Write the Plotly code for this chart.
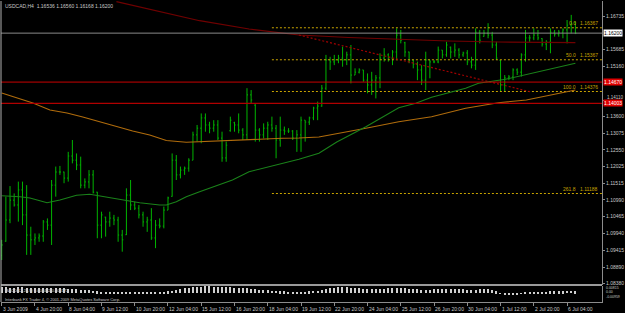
import plotly.graph_objects as go

# ---------------- data ----------------
bars = list(range(139))
highs = [1.0974,1.1109,1.1142,1.1119,1.1156,1.1156,1.1145,1.1015,1.0994,1.0994,
         1.1036,1.1041,1.1161,1.1203,1.1205,1.1187,1.1249,1.1286,1.1244,1.1234,
         1.1166,1.1192,1.1192,1.1124,1.1062,1.1046,1.1062,1.1052,1.1046,1.1005,
         1.1135,1.1161,1.1093,1.1083,1.1062,1.1046,1.1073,1.1036,1.1041,1.1078,
         1.1109,1.1244,1.1239,1.1203,1.1203,1.1229,1.1312,1.1333,1.1369,1.1369,
         1.1343,1.1348,1.1348,1.1312,1.1281,1.1359,1.1343,1.1369,1.1323,1.1448,
         1.1442,1.1398,1.1323,1.1338,1.1343,1.1359,1.1333,1.1359,1.1328,1.1323,
         1.1317,1.1317,1.1359,1.1348,1.1359,1.1390,1.1406,1.1458,1.1552,1.1546,
         1.1552,1.1552,1.1578,1.1562,1.1583,1.1510,1.1510,1.1505,1.1494,1.1499,
         1.1489,1.1557,1.1573,1.1557,1.1567,1.1635,1.1630,1.1593,1.1562,1.1536,
         1.1531,1.1520,1.1562,1.1536,1.1536,1.1578,1.1567,1.1593,1.1578,1.1588,
         1.1573,1.1562,1.1567,1.1546,1.1635,1.1630,1.1630,1.1651,1.1624,1.1593,
         1.1536,1.1489,1.1489,1.1510,1.1510,1.1557,1.1630,1.1614,1.1635,1.1630,
         1.1604,1.1598,1.1635,1.1630,1.1630,1.1635,1.1661,1.1677,1.1656]
lows = [1.0911,1.0968,1.1026,1.1078,1.1031,1.1020,1.0927,1.0927,1.0958,1.0968,
        1.0968,1.1005,1.0958,1.1109,1.1177,1.1151,1.1156,1.1213,1.1192,1.1135,
        1.1135,1.1135,1.1119,1.0979,1.0979,1.0984,1.1015,1.1020,1.0968,1.0937,
        1.0989,1.1067,1.1067,1.1041,1.1015,1.0999,1.0974,1.0948,1.1010,1.1010,
        1.1067,1.1109,1.1161,1.1166,1.1177,1.1187,1.1223,1.1281,1.1276,1.1312,
        1.1307,1.1312,1.1286,1.1218,1.1218,1.1312,1.1312,1.1307,1.1286,1.1286,
        1.1401,1.1281,1.1281,1.1291,1.1286,1.1312,1.1229,1.1265,1.1302,1.1308,
        1.1286,1.1249,1.1249,1.1281,1.1333,1.1348,1.1348,1.1390,1.1442,1.1505,
        1.1520,1.1526,1.1515,1.1520,1.1463,1.1489,1.1494,1.1468,1.1432,1.1427,
        1.1416,1.1448,1.1531,1.1531,1.1520,1.1536,1.1588,1.1546,1.1526,1.1510,
        1.1473,1.1458,1.1442,1.1479,1.1526,1.1526,1.1541,1.1546,1.1541,1.1546,
        1.1541,1.1546,1.1520,1.1510,1.1505,1.1588,1.1609,1.1604,1.1573,1.1536,
        1.1437,1.1437,1.1473,1.1473,1.1489,1.1484,1.1531,1.1593,1.1598,1.1598,
        1.1578,1.1567,1.1557,1.1609,1.1609,1.1604,1.1588,1.1619,1.1617]
opens = [1.0925,1.0970,1.1036,1.1098,1.1083,1.1130,1.1052,1.0989,1.0974,1.0980,
         1.0986,1.1030,1.1020,1.1145,1.1186,1.1186,1.1167,1.1236,1.1223,1.1208,
         1.1145,1.1155,1.1177,1.1123,1.1020,1.1045,1.1030,1.1042,1.1036,1.0989,
         1.0990,1.1114,1.1083,1.1073,1.1052,1.1030,1.1036,1.0980,1.1020,1.1017,
         1.1067,1.1110,1.1223,1.1177,1.1192,1.1198,1.1223,1.1302,1.1323,1.1355,
         1.1333,1.1323,1.1333,1.1292,1.1230,1.1315,1.1340,1.1333,1.1317,1.1302,
         1.1427,1.1395,1.1317,1.1302,1.1323,1.1333,1.1323,1.1286,1.1317,1.1314,
         1.1314,1.1292,1.1302,1.1348,1.1342,1.1355,1.1386,1.1392,1.1448,1.1536,
         1.1530,1.1536,1.1542,1.1536,1.1552,1.1489,1.1498,1.1505,1.1473,1.1458,
         1.1473,1.1480,1.1542,1.1552,1.1542,1.1561,1.1614,1.1590,1.1561,1.1536,
         1.1523,1.1505,1.1473,1.1536,1.1530,1.1530,1.1567,1.1552,1.1576,1.1561,
         1.1567,1.1552,1.1558,1.1530,1.1520,1.1623,1.1610,1.1620,1.1614,1.1583,
         1.1535,1.1458,1.1480,1.1483,1.1505,1.1498,1.1552,1.1605,1.1605,1.1614,
         1.1603,1.1586,1.1592,1.1623,1.1617,1.1623,1.1630,1.1645,1.16536]
closes = [1.0958,1.1036,1.1098,1.1083,1.1130,1.1052,1.0989,1.0974,1.0980,1.0986,
          1.1030,1.1020,1.1145,1.1186,1.1186,1.1167,1.1236,1.1223,1.1208,1.1145,
          1.1155,1.1177,1.1123,1.1020,1.1052,1.1030,1.1042,1.1036,1.0989,1.0974,
          1.1114,1.1083,1.1073,1.1052,1.1030,1.1036,1.0980,1.1020,1.1017,1.1067,
          1.1105,1.1223,1.1177,1.1192,1.1198,1.1223,1.1302,1.1323,1.1355,1.1333,
          1.1323,1.1333,1.1292,1.1230,1.1270,1.1348,1.1333,1.1317,1.1302,1.1427,
          1.1411,1.1317,1.1302,1.1323,1.1333,1.1323,1.1286,1.1317,1.1314,1.1314,
          1.1292,1.1302,1.1348,1.1342,1.1355,1.1386,1.1392,1.1448,1.1536,1.1530,
          1.1536,1.1542,1.1536,1.1552,1.1489,1.1498,1.1505,1.1473,1.1458,1.1473,
          1.1480,1.1542,1.1552,1.1542,1.1561,1.1614,1.1598,1.1561,1.1536,1.1523,
          1.1505,1.1473,1.1536,1.1530,1.1530,1.1567,1.1552,1.1583,1.1561,1.1567,
          1.1552,1.1558,1.1530,1.1520,1.1623,1.1598,1.1620,1.1614,1.1583,1.1542,
          1.1458,1.1480,1.1483,1.1505,1.1498,1.1552,1.1605,1.1605,1.1614,1.1605,
          1.1586,1.1592,1.1623,1.1617,1.1623,1.1630,1.1645,1.1650,1.1620]

macd = [0.0066,0.0066,0.0055,0.0055,0.0066,0.0066,0.0055,
        0.0055,0.0055,0.0055,0.0055,0.0055,0.0055,0.0055,0.0055,0.0055,
        0.0044,0.0044,0.0044,0.0040,0.0033,0.0033,0.0030,0.0022,
        0.0016,0.0016,0.0011,0.0011,0.0011,0.0011,0.0010,0.0010,0.0006,0.0005,
        0.0005,0.0006,0.0011,0.0011,0.0012,0.0016,0.0022,
        0.0024,0.0033,0.0044,0.0055,0.0058,0.0066,
        0.0068,0.0075,0.0077,0.0077,0.0075,0.0072,0.0068,0.0066,0.0066,0.0064,
        0.0058,0.0055,0.0055,0.0048,0.0044,0.0042,0.0036,0.0033,0.0030,0.0024,
        0.0022,0.0022,0.0020,0.0020,0.0017,0.0016,0.0020,0.0022,0.0024,0.0026,
        0.0033,0.0044,0.0055,0.0064,0.0068,0.0068,0.0066,0.0064,0.0058,
        0.0055,0.0052,0.0048,0.0046,0.0044,0.0050,0.0053,0.0055,0.0055,0.0058,
        0.0058,0.0055,0.0050,0.0046,0.0044,0.0042,0.0042,0.0042,0.0044,0.0044,
        0.0044,0.0044,0.0046,0.0046,0.0044,0.0044,0.0038,0.0033,0.0040,0.0044,0.0044,
        0.0044,0.0033,0.0022,
        -0.0006,-0.0011,-0.0011,-0.0011,-0.0009,-0.0006,0.0004,0.0008,
        0.0016,0.0020,0.0020,0.0020,0.0022,0.0022,0.0022,0.0022,0.0024,0.0024,0.0022]

# moving averages sampled at readable bars
slow_ma_bars = [0,7.5,11.6,15.7,19.5,23.6,27.6,31.5,35.6,39.6,44.4,47.6,55.5,59.5,67.5,71.5,76.3,87.6,95.5,103.4,111.6,119.5,126.2,138]
slow_ma_vals = [1.14329,1.14016,1.13798,1.13704,1.13579,1.13423,1.13266,1.13141,1.13016,1.12844,1.12788,1.12807,1.12838,1.12882,1.12913,1.12923,1.12954,1.13226,1.13432,1.13588,1.13851,1.14026,1.14110,1.14423]
fast_ma_bars = [0,4.4,6.8,10.9,14,18,21.2,23.6,27.6,30,33.2,38,39.6,42,44.4,47.6,51.6,55.5,59.5,63.6,67.5,71.5,76.3,80.6,87.6,95.5,99.6,103.4,111.6,114.7,121.2,129.1,138]
fast_ma_vals = [1.11119,1.11088,1.11047,1.10901,1.10985,1.11132,1.11163,1.11110,1.11038,1.10963,1.10901,1.10829,1.10829,1.10932,1.11088,1.11244,1.11423,1.11610,1.11870,1.12007,1.12132,1.12257,1.12444,1.12798,1.13276,1.13869,1.14007,1.14194,1.14476,1.14632,1.14757,1.14994,1.15257]
long_ma_bars = [27.6,35.6,47.6,59.5,71.5,83.5,95.5,107.5,119.5,138]
long_ma_vals = [1.17182,1.16954,1.16588,1.16329,1.16141,1.16063,1.16001,1.15954,1.15923,1.15901]
trend_bars = [71.5,127.4]
trend_vals = [1.16141,1.14360]

fib_start_bar = 65
fib_levels = [1.16367,1.15367,1.14376,1.11188]
fib_names = ["0.0","50.0","100.0","261.8"]

current_price = 1.16200
red_levels = [1.14670,1.14003]

price_ticks = [1.16735,1.15685,1.15160,1.13600,1.13075,1.12550,1.12025,1.11515,1.10990,1.10465,1.09940,1.09415,1.08890,1.08380]
price_tick_text = ["1.16735","1.15685","1.15160","1.13600","1.13075","1.12550","1.12025","1.11515","1.10990","1.10465","1.09940","1.09415","1.08890","1.08380"]
crowded_tick = 1.14110   # label squeezed against the red 1.14003 box

time_bars = [0,8,16,24,32,40,48,56,64,72,80,88,96,104,112,120,128,136]
time_labels = ["3 Jun 2009","4 Jun 20:00","8 Jun 04:00","9 Jun 12:00","10 Jun 20:00","12 Jun 04:00",
               "15 Jun 12:00","16 Jun 20:00","18 Jun 04:00","19 Jun 12:00","22 Jun 20:00","24 Jun 04:00",
               "25 Jun 12:00","26 Jun 20:00","30 Jun 04:00","1 Jul 12:00","2 Jul 20:00","6 Jul 04:00"]

header = "USDCAD,H4  1.16536 1.16560 1.16168 1.16200"
macd_label = "MACD(12,26,9) 0.002462 0.003172"
copyright_txt = "Interbank FX Trader 4, \u00a9 2001-2009 MetaQuotes Software Corp."

# ---------------- figure ----------------
W, H = 625, 313
ML, MR, MT, MB = 1, 21, 1, 11
PH = H - MT - MB
def py(px):  # pixel row -> paper y
    return (H - MB - px) / PH

XR = [-0.17, 144.4]
FONT = "Liberation Sans, Arial, sans-serif"
TXT = "#c8c8c8"
GRID = "#8c8c8c"
FIB = "#c8a400"

fig = go.Figure()

# horizontal reference lines
fig.add_shape(type="line", xref="paper", yref="y", x0=0, x1=1, y0=current_price, y1=current_price,
              line=dict(color="#8a8a8a", width=1))
fig.add_shape(type="line", xref="paper", yref="y", x0=0, x1=1, y0=red_levels[0], y1=red_levels[0],
              line=dict(color="#c80000", width=1))
fig.add_shape(type="line", xref="paper", yref="y", x0=0, x1=1, y0=red_levels[1], y1=red_levels[1],
              line=dict(color="#b00000", width=1.2))

for lv in fib_levels:
    fig.add_trace(go.Scatter(x=[fib_start_bar, XR[1]], y=[lv, lv], mode="lines",
                             line=dict(color=FIB, width=1, dash="2px,2px"),
                             xaxis="x", yaxis="y", hoverinfo="skip", showlegend=False))

fig.add_trace(go.Scatter(x=long_ma_bars, y=long_ma_vals, mode="lines",
                         line=dict(color="#700000", width=1.2), showlegend=False))
fig.add_trace(go.Scatter(x=trend_bars, y=trend_vals, mode="lines",
                         line=dict(color="#a00000", width=1.2, dash="2px,2px"), showlegend=False))
fig.add_trace(go.Scatter(x=slow_ma_bars, y=slow_ma_vals, mode="lines",
                         line=dict(color="#b06c0c", width=1.1), showlegend=False))
fig.add_trace(go.Scatter(x=fast_ma_bars, y=fast_ma_vals, mode="lines",
                         line=dict(color="#1a821a", width=1.1), showlegend=False))

fig.add_trace(go.Ohlc(x=bars, open=opens, high=highs, low=lows, close=closes,
                      increasing=dict(line=dict(color="#00b400", width=1)),
                      decreasing=dict(line=dict(color="#00b400", width=1)),
                      tickwidth=0.25, xaxis="x", yaxis="y", showlegend=False))

fig.add_trace(go.Bar(x=bars, y=macd, width=0.3, marker=dict(color="#d0d0d0", line=dict(width=0)),
                     xaxis="x2", yaxis="y2", showlegend=False))

main_bottom = py(285)
macd_top = py(286)

fig.update_layout(
    width=W, height=H, margin=dict(l=ML, r=MR, t=MT, b=MB),
    paper_bgcolor="#000000", plot_bgcolor="#000000",
    font=dict(family=FONT, size=5, color=TXT),
    showlegend=False, bargap=0,
    xaxis=dict(domain=[0, 1], range=XR, anchor="y", showticklabels=False, showgrid=False,
               zeroline=False, rangeslider=dict(visible=False), showline=False),
    xaxis2=dict(domain=[0, 1], range=XR, anchor="y2", matches="x", showticklabels=False, showgrid=False,
                zeroline=False, ticks="outside", tickvals=time_bars, ticklen=3, tickcolor=GRID,
                showline=True, linecolor=GRID, linewidth=1),
    yaxis=dict(domain=[main_bottom, 1], range=[1.08329, 1.17204], anchor="x", side="right",
               tickvals=price_ticks + [crowded_tick], ticktext=price_tick_text + [""], ticks="outside",
               ticklen=2, tickcolor=GRID, tickfont=dict(size=5, color=TXT, family=FONT),
               showgrid=False, zeroline=False, showline=True, linecolor=GRID, linewidth=1),
    yaxis2=dict(domain=[0, macd_top], range=[-0.00959, 0.00815], anchor="x2", side="right",
                showticklabels=False, showgrid=False, zeroline=False, showline=True,
                linecolor=GRID, linewidth=1),
)

# panel separators and left border
fig.add_shape(type="line", xref="paper", yref="paper", x0=0, x1=1, y0=main_bottom, y1=main_bottom,
              line=dict(color="#9a9a9a", width=2))
fig.add_shape(type="line", xref="paper", yref="paper", x0=0, x1=0, y0=0, y1=1,
              line=dict(color="#b0b0b0", width=1))

ann = []
ann.append(dict(text=header, xref="paper", yref="paper", x=0.004, y=py(6), xanchor="left",
                yanchor="middle", showarrow=False, font=dict(size=5, color=TXT)))
ann.append(dict(text=macd_label, xref="paper", yref="paper", x=0.004, y=py(290), xanchor="left",
                yanchor="middle", showarrow=False, font=dict(size=4, color=TXT)))
ann.append(dict(text=copyright_txt, xref="paper", yref="paper", x=0.004, y=py(299), xanchor="left",
                yanchor="middle", showarrow=False, font=dict(size=4, color=TXT)))
for b, t in zip(time_bars, time_labels):
    ann.append(dict(text=t, xref="x2", yref="paper", x=b, y=py(308.5), xanchor="left",
                    yanchor="middle", showarrow=False, xshift=-1, font=dict(size=5, color=TXT)))
# squeezed price label above the red box
ann.append(dict(text=f"{crowded_tick:.5f}", xref="paper", yref="y", x=1, y=crowded_tick,
                xanchor="left", yanchor="bottom", xshift=3, yshift=-2, showarrow=False,
                font=dict(size=4.5, color=TXT)))
# price boxes
ann.append(dict(text=f"{current_price:.5f}", xref="paper", yref="y", x=1, y=current_price,
                xanchor="left", yanchor="middle", xshift=1, showarrow=False, bgcolor="#ffffff",
                borderpad=0, font=dict(size=5, color="#000000")))
for lv in red_levels:
    ann.append(dict(text=f"{lv:.5f}", xref="paper", yref="y", x=1, y=lv, xanchor="left",
                    yanchor="middle", xshift=1, showarrow=False, bgcolor="#e00000", borderpad=0,
                    font=dict(size=5, color="#ffffff")))
# MACD scale labels
for txt, pxrow in [("0.00815", 287.5), ("0.00", 292), ("-0.00959", 296.5)]:
    ann.append(dict(text=txt, xref="paper", yref="paper", x=1, y=py(pxrow), xanchor="left",
                    yanchor="middle", xshift=2, showarrow=False, font=dict(size=3.5, color=TXT)))
# fib labels
for lv, nm in zip(fib_levels, fib_names):
    ann.append(dict(text=nm, xref="x", yref="y", x=XR[1], y=lv, xanchor="right", yanchor="bottom",
                    xshift=-24, showarrow=False, font=dict(size=5, color=FIB)))
    ann.append(dict(text=f"{lv:.5f}", xref="x", yref="y", x=XR[1], y=lv, xanchor="right",
                    yanchor="bottom", xshift=-2, showarrow=False, font=dict(size=5, color=FIB)))
fig.update_layout(annotations=ann)

fig.write_html("out.html")
